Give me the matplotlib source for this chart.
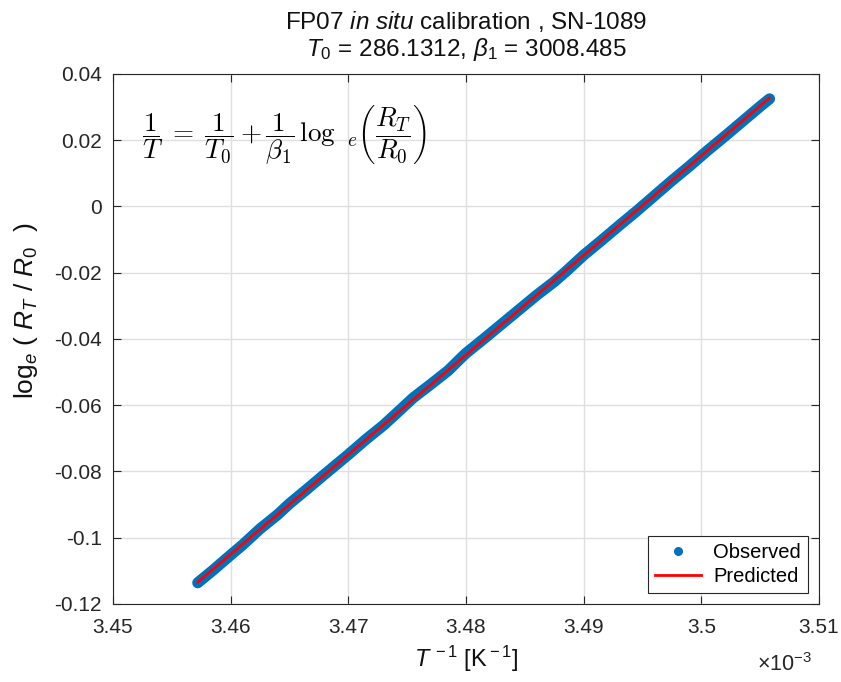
import numpy as np
import matplotlib
matplotlib.use('Agg')
import matplotlib.pyplot as plt
from matplotlib.lines import Line2D

plt.rcParams['font.family'] = ['Liberation Sans', 'DejaVu Sans']
plt.rcParams['mathtext.fontset'] = 'custom'
plt.rcParams['mathtext.rm'] = 'Liberation Sans'
plt.rcParams['mathtext.it'] = 'Liberation Sans:italic'
plt.rcParams['mathtext.bf'] = 'Liberation Sans:bold'

obs_x = [3.4572, 3.4585, 3.4600, 3.4610, 3.4625, 3.4640, 3.4650, 3.4665,
         3.4680, 3.4700, 3.4715, 3.4730, 3.4745, 3.4755, 3.4770, 3.4785,
         3.4795, 3.4800, 3.4815, 3.4830, 3.4845, 3.4860, 3.4875, 3.4885,
         3.4900, 3.4915, 3.4930, 3.4945, 3.4960, 3.4975, 3.4990, 3.5005,
         3.5020, 3.5035, 3.5050, 3.5058]
obs_y = [-0.1136, -0.1098, -0.1052, -0.1022, -0.0973, -0.0930, -0.0897, -0.0853,
         -0.0808, -0.0749, -0.0703, -0.0660, -0.0611, -0.0578, -0.0537, -0.0495,
         -0.0460, -0.0443, -0.0400, -0.0356, -0.0312, -0.0268, -0.0227, -0.0196,
         -0.0147, -0.0103, -0.0058, -0.0014, 0.0032, 0.0078, 0.0122, 0.0168,
         0.0212, 0.0257, 0.0302, 0.0325]

# Predicted line end points
pred_x = [3.4572, 3.5058]
pred_y = [-0.1134, 0.0328]

xticks = [3.45, 3.46, 3.47, 3.48, 3.49, 3.50, 3.51]
xticklabels = ['3.45', '3.46', '3.47', '3.48', '3.49', '3.5', '3.51']
yticks = [-0.12, -0.10, -0.08, -0.06, -0.04, -0.02, 0.0, 0.02, 0.04]
yticklabels = ['-0.12', '-0.1', '-0.08', '-0.06', '-0.04', '-0.02', '0', '0.02', '0.04']

blue = '#0072BD'
axcol = '#262626'


def make_plot():
    fig = plt.figure(figsize=(8.41, 6.82), dpi=100)
    ax = fig.add_axes([0.1344, 0.1144, 0.8394, 0.7771])

    ax.plot(obs_x, obs_y, '-', color=blue, lw=8, solid_capstyle='round',
            solid_joinstyle='round', zorder=3)
    ax.plot(pred_x, pred_y, '-', color='red', lw=2, zorder=4)

    ax.set_xlim(3.45, 3.51)
    ax.set_ylim(-0.12, 0.04)
    ax.set_xticks(xticks)
    ax.set_xticklabels(xticklabels)
    ax.set_yticks(yticks)
    ax.set_yticklabels(yticklabels)
    ax.tick_params(direction='in', top=True, right=True, length=6, width=0.8,
                   labelsize=15, colors=axcol, pad=8)
    ax.tick_params(axis='x', pad=10)
    for sp in ax.spines.values():
        sp.set_color(axcol)
        sp.set_linewidth(0.8)
    ax.grid(True, color='#dfdfdf', lw=1)
    ax.set_axisbelow(True)

    ax.set_title('FP07 $\\it{in\\ situ}$ calibration , SN-1089\n'
                 '$T_{\\rm 0}$ = 286.1312, $\\beta_{\\it 1}$ = 3008.485',
                 fontsize=17.5, color='#111111', pad=13, linespacing=1.1)
    ax.set_xlabel('$T^{\\rm \\,-1}$ [K$^{\\rm -1}$]', fontsize=17, color='#111111', labelpad=5)
    ax.set_ylabel('log$_e$ ( $R_T$ / $R_0$  )', fontsize=19, color='#111111')
    ax.yaxis.set_label_coords(-0.104, 0.553)
    ax.text(0.99, -0.093, '$\\times$10$^{-3}$', transform=ax.transAxes,
            ha='right', va='top', fontsize=15.5, color=axcol)

    ax.text(0.041, 0.884,
            r'$\dfrac{1}{T}\; = \;\dfrac{1}{T_0} + \dfrac{1}{\beta_1}\,\log\ _e\left(\dfrac{R_T}{R_0}\right)$',
            transform=ax.transAxes, fontsize=19.5, math_fontfamily='cm',
            ha='left', va='center')

    handles = [Line2D([], [], color=blue, marker='.', ls='none', markersize=11),
               Line2D([], [], color='red', lw=2)]
    leg = ax.legend(handles, ['Observed', 'Predicted'], loc='lower right',
                    fontsize=14.5, fancybox=False, framealpha=1, edgecolor=axcol,
                    borderpad=0.35, handlelength=2.3, labelspacing=0.25,
                    borderaxespad=0.55, handletextpad=0.6)
    leg.get_frame().set_linewidth(0.8)

    fig.savefig('out.png', dpi=100)


make_plot()
